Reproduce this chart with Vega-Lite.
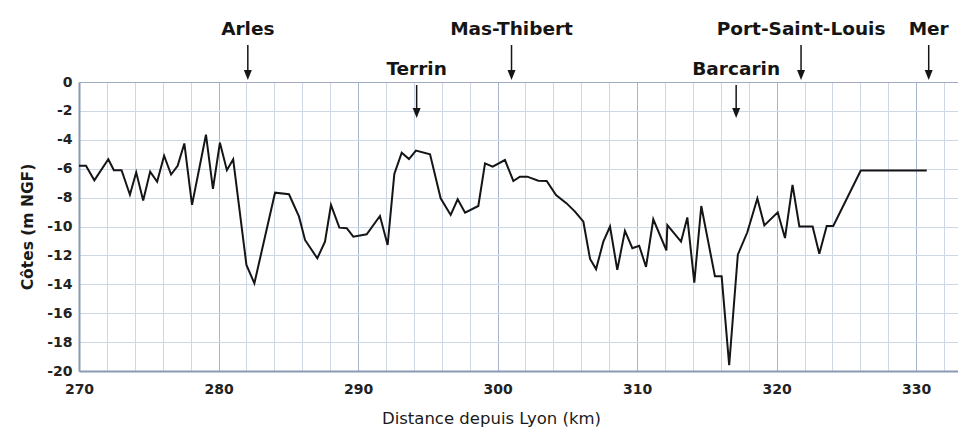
{
  "$schema": "https://vega.github.io/schema/vega-lite/v6.json",
  "width": 879,
  "height": 289,
  "autosize": {"type": "none"},
  "padding": {"left": 79, "top": 82, "right": 0, "bottom": 56},
  "background": "white",
  "config": {"view": {"stroke": null}, "font": "DejaVu Sans"},
  "resolve": {"axis": {"x": "independent", "y": "independent"}},
  "datasets": {
    "profile": [
      {"km": 270.0, "cote": -5.8}, {"km": 270.5, "cote": -5.8}, {"km": 271.1, "cote": -6.8},
      {"km": 272.1, "cote": -5.35}, {"km": 272.5, "cote": -6.1}, {"km": 273.05, "cote": -6.1},
      {"km": 273.65, "cote": -7.8}, {"km": 274.1, "cote": -6.25}, {"km": 274.6, "cote": -8.2},
      {"km": 275.1, "cote": -6.2}, {"km": 275.6, "cote": -6.9}, {"km": 276.1, "cote": -5.1},
      {"km": 276.6, "cote": -6.4}, {"km": 277.07, "cote": -5.8}, {"km": 277.55, "cote": -4.25},
      {"km": 278.1, "cote": -8.5}, {"km": 279.1, "cote": -3.65}, {"km": 279.6, "cote": -7.4},
      {"km": 280.1, "cote": -4.2}, {"km": 280.6, "cote": -6.1}, {"km": 281.05, "cote": -5.35},
      {"km": 282.0, "cote": -12.66}, {"km": 282.57, "cote": -13.93}, {"km": 284.05, "cote": -7.66},
      {"km": 285.05, "cote": -7.77}, {"km": 285.77, "cote": -9.32}, {"km": 286.2, "cote": -10.93},
      {"km": 287.08, "cote": -12.2}, {"km": 287.63, "cote": -11.05}, {"km": 288.06, "cote": -8.51},
      {"km": 288.66, "cote": -10.08}, {"km": 289.19, "cote": -10.12}, {"km": 289.66, "cote": -10.7},
      {"km": 290.62, "cote": -10.54}, {"km": 291.57, "cote": -9.27}, {"km": 292.12, "cote": -11.28},
      {"km": 292.6, "cote": -6.37}, {"km": 293.13, "cote": -4.89}, {"km": 293.65, "cote": -5.33},
      {"km": 294.15, "cote": -4.75}, {"km": 295.16, "cote": -5.0}, {"km": 295.92, "cote": -8.05},
      {"km": 296.64, "cote": -9.2}, {"km": 297.14, "cote": -8.12}, {"km": 297.67, "cote": -9.04},
      {"km": 298.62, "cote": -8.58}, {"km": 299.1, "cote": -5.63}, {"km": 299.65, "cote": -5.86},
      {"km": 300.53, "cote": -5.4}, {"km": 301.13, "cote": -6.85}, {"km": 301.6, "cote": -6.55},
      {"km": 302.13, "cote": -6.55}, {"km": 302.92, "cote": -6.83}, {"km": 303.52, "cote": -6.85},
      {"km": 304.19, "cote": -7.82}, {"km": 304.95, "cote": -8.4}, {"km": 305.55, "cote": -8.97},
      {"km": 306.15, "cote": -9.67}, {"km": 306.63, "cote": -12.25}, {"km": 307.06, "cote": -12.95},
      {"km": 307.58, "cote": -11.05}, {"km": 308.06, "cote": -10.0}, {"km": 308.58, "cote": -13.0},
      {"km": 309.13, "cote": -10.3}, {"km": 309.66, "cote": -11.5}, {"km": 310.15, "cote": -11.33},
      {"km": 310.64, "cote": -12.8}, {"km": 311.16, "cote": -9.5}, {"km": 312.1, "cote": -11.65},
      {"km": 312.17, "cote": -9.9}, {"km": 313.15, "cote": -11.05}, {"km": 313.6, "cote": -9.37},
      {"km": 314.1, "cote": -13.88}, {"km": 314.6, "cote": -8.58}, {"km": 315.58, "cote": -13.45},
      {"km": 316.06, "cote": -13.45}, {"km": 316.6, "cote": -19.6}, {"km": 317.22, "cote": -11.95},
      {"km": 317.9, "cote": -10.4}, {"km": 318.62, "cote": -8.06}, {"km": 319.12, "cote": -9.92},
      {"km": 320.08, "cote": -9.02}, {"km": 320.6, "cote": -10.8}, {"km": 321.14, "cote": -7.12},
      {"km": 321.63, "cote": -10.0}, {"km": 322.58, "cote": -10.0}, {"km": 323.06, "cote": -11.88},
      {"km": 323.59, "cote": -9.97}, {"km": 324.06, "cote": -9.97}, {"km": 326.03, "cote": -6.12},
      {"km": 330.76, "cote": -6.12}
    ],
    "places": [
      {"name": "Arles", "km": 282.1, "tier": 1},
      {"name": "Terrin", "km": 294.2, "tier": 2},
      {"name": "Mas-Thibert", "km": 301.0, "tier": 1},
      {"name": "Barcarin", "km": 317.1, "tier": 2},
      {"name": "Port-Saint-Louis", "km": 321.75, "tier": 1},
      {"name": "Mer", "km": 330.9, "tier": 1}
    ]
  },
  "layer": [
    {
      "data": {"name": "profile"},
      "mark": {"type": "line", "color": "#151515", "strokeWidth": 2, "strokeJoin": "miter", "strokeMiterLimit": 4},
      "encoding": {
        "x": {
          "field": "km", "type": "quantitative",
          "scale": {"domain": [270, 333], "nice": false, "zero": false},
          "axis": {
            "title": "Distance depuis Lyon (km)",
            "values": [270,272,274,276,278,280,282,284,286,288,290,292,294,296,298,300,302,304,306,308,310,312,314,316,318,320,322,324,326,328,330,332],
            "labelExpr": "datum.value % 10 === 0 ? datum.label : ''",
            "format": "d",
            "ticks": false, "tickSize": 0,
            "labelFontSize": 14, "labelFontWeight": "bold", "labelColor": "#222222", "labelPadding": 11,
            "labelFlush": false, "labelOverlap": false,
            "domainColor": "#8a9ab5", "domainWidth": 2,
            "grid": true,
            "gridColor": {"condition": {"test": "datum.value % 10 === 0", "value": "#a9b5ca"}, "value": "#cdd7e6"},
            "gridWidth": 1, "gridOpacity": 1,
            "titleFontSize": 16.5, "titleFontWeight": "normal", "titleColor": "#1a1a1a", "titlePadding": 14,
            "titleX": 412
          }
        },
        "y": {
          "field": "cote", "type": "quantitative",
          "scale": {"domain": [-20, 0], "nice": false, "zero": false},
          "axis": {
            "title": "Côtes (m NGF)",
            "values": [-20,-18,-16,-14,-12,-10,-8,-6,-4,-2,0],
            "labelExpr": "toString(datum.value)",
            "ticks": false, "tickSize": 0,
            "labelFontSize": 14, "labelFontWeight": "bold", "labelColor": "#222222", "labelPadding": 7,
            "labelFlush": false, "labelOverlap": false,
            "domainColor": "#8a9ab5", "domainWidth": 2,
            "grid": true,
            "gridColor": {"condition": {"test": "datum.value === 0", "value": "#9eabc2"}, "value": "#cdd7e6"},
            "gridWidth": 1, "gridOpacity": 1,
            "titleFontSize": 15.5, "titleFontWeight": "bold", "titleColor": "#1a1a1a", "titlePadding": 11
          }
        }
      }
    },
    {
      "data": {"name": "places"},
      "transform": [{"filter": "datum.tier === 1"}],
      "layer": [
        {"mark": {"type": "text", "fontSize": 18.5, "fontWeight": "bold", "color": "#151515", "align": "center", "baseline": "alphabetic"},
         "encoding": {"x": {"field": "km", "type": "quantitative", "axis": null}, "y": {"datum": 3.25, "axis": null}, "text": {"field": "name"}}},
        {"mark": {"type": "rule", "color": "#151515", "strokeWidth": 1.5},
         "encoding": {"x": {"field": "km", "type": "quantitative", "axis": null}, "y": {"datum": 2.56, "axis": null}, "y2": {"datum": 0.45}}},
        {"mark": {"type": "point", "shape": "M-0.8,-1L0.8,-1L0,1Z", "filled": true, "color": "#151515", "opacity": 1, "size": 100},
         "encoding": {"x": {"field": "km", "type": "quantitative", "axis": null}, "y": {"datum": 0.48, "axis": null}}}
      ]
    },
    {
      "data": {"name": "places"},
      "transform": [{"filter": "datum.tier === 2"}],
      "layer": [
        {"mark": {"type": "text", "fontSize": 18.5, "fontWeight": "bold", "color": "#151515", "align": "center", "baseline": "alphabetic"},
         "encoding": {"x": {"field": "km", "type": "quantitative", "axis": null}, "y": {"datum": 0.48, "axis": null}, "text": {"field": "name"}}},
        {"mark": {"type": "rule", "color": "#151515", "strokeWidth": 1.5},
         "encoding": {"x": {"field": "km", "type": "quantitative", "axis": null}, "y": {"datum": -0.21, "axis": null}, "y2": {"datum": -2.18}}},
        {"mark": {"type": "point", "shape": "M-0.8,-1L0.8,-1L0,1Z", "filled": true, "color": "#151515", "opacity": 1, "size": 100},
         "encoding": {"x": {"field": "km", "type": "quantitative", "axis": null}, "y": {"datum": -2.15, "axis": null}}}
      ]
    }
  ]
}
